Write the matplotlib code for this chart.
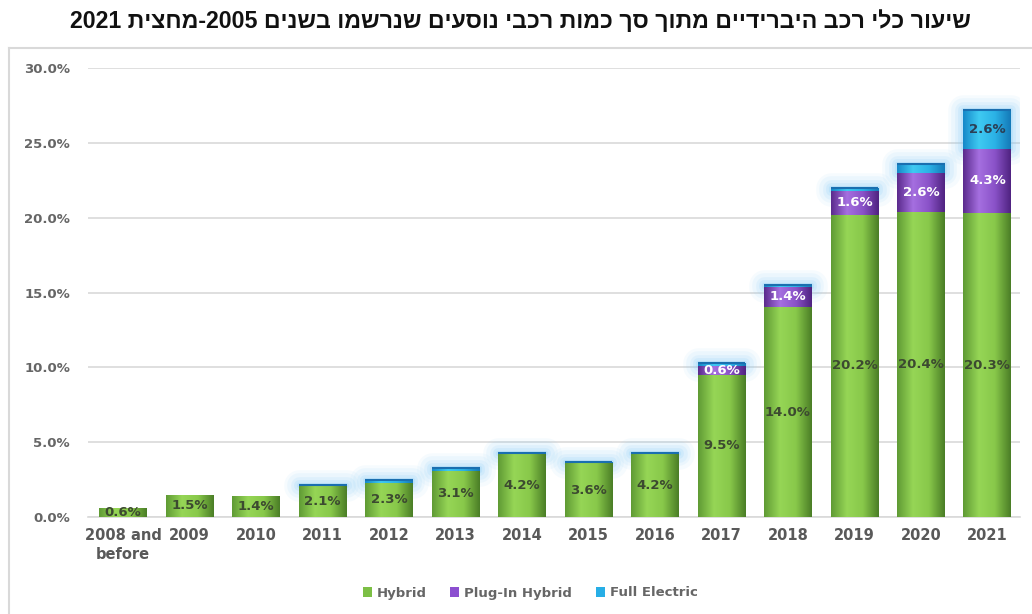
import re
import numpy as np
import matplotlib
matplotlib.use("Agg")
import matplotlib.pyplot as plt
from matplotlib.colors import LinearSegmentedColormap
from matplotlib.patches import Patch
from matplotlib.lines import Line2D

# ---------------- data ----------------
categories = ["2008 and\nbefore", "2009", "2010", "2011", "2012", "2013", "2014",
              "2015", "2016", "2017", "2018", "2019", "2020", "2021"]
hybrid = [0.6, 1.5, 1.4, 2.1, 2.3, 3.1, 4.2, 3.6, 4.2, 9.5, 14.0, 20.2, 20.4, 20.3]
plugin = [0, 0, 0, 0, 0, 0, 0, 0, 0, 0.6, 1.4, 1.6, 2.6, 4.3]
electric = [0, 0, 0, 0.07, 0.15, 0.2, 0.1, 0.1, 0.1, 0.2, 0.1, 0.2, 0.6, 2.6]
series_names = ["Hybrid", "Plug-In Hybrid", "Full Electric"]
yticks = [0, 5, 10, 15, 20, 25, 30]
title_logical = "שיעור כלי רכב היברידיים מתוך סך כמות רכבי נוסעים שנרשמו בשנים 2005-מחצית 2021"


def visual_order(s):
    # matplotlib has no bidi support: lay the RTL text out in visual order
    r = s[::-1]
    return re.sub(r"\d+", lambda m: m.group(0)[::-1], r)


GREEN = ["#5f9a34", "#96d656", "#88c84a", "#4a7d26"]
PURPLE = ["#5a2a8c", "#a56fe0", "#8a52c8", "#4f2280"]
BLUE = ["#1588c8", "#3fcaf2", "#2bb2e6", "#1479b8"]
cmaps = [LinearSegmentedColormap.from_list("g%d" % i, c) for i, c in enumerate([GREEN, PURPLE, BLUE])]
solid = ["#7cbf45", "#8c4fd0", "#27aee6"]

fig = plt.figure(figsize=(10.32, 6.14), dpi=100)
ax = fig.add_axes([88 / 1032, 97 / 614, 932 / 1032, 449 / 614])

x = np.arange(len(categories))
width = 0.72
grad = np.linspace(0, 1, 256)[np.newaxis, :]


def grad_bars(bottoms, heights, cmap, z):
    bars = ax.bar(x, heights, width, bottom=bottoms, facecolor="none",
                  edgecolor="none", zorder=z)
    for p in bars:
        if p.get_height() <= 0:
            continue
        x0, y0 = p.get_x(), p.get_y()
        im = ax.imshow(grad, extent=(x0, x0 + p.get_width(), y0, y0 + p.get_height()),
                       cmap=cmap, aspect="auto", origin="lower",
                       interpolation="bilinear", zorder=z)
        im.set_clip_path(p)
    return bars


hyb = np.array(hybrid)
plg = np.array(plugin)
ele = np.array(electric)

# glow around the electric (top) segment
glow_bottom = hyb + plg
for lw, a in [(22, 0.07), (17, 0.09), (12, 0.12), (7, 0.16), (3, 0.22)]:
    mask = ele > 0
    ax.bar(x[mask], ele[mask], width, bottom=glow_bottom[mask], facecolor="#86cbf7",
           edgecolor="#86cbf7", linewidth=lw, alpha=a, joinstyle="round", zorder=1)

grad_bars(np.zeros_like(hyb), hyb, cmaps[0], 3)
grad_bars(hyb, plg, cmaps[1], 3)
grad_bars(hyb + plg, ele, cmaps[2], 3)

# darker top edge line for electric segments
for xi, b, h in zip(x, hyb + plg, ele):
    if h > 0:
        ax.plot([xi - width / 2, xi + width / 2], [b + h, b + h], color="#1a6fb0",
                lw=1.5, zorder=4, solid_capstyle="butt")

# labels
lab_kw = dict(ha="center", va="center", fontsize=9.5, fontweight="bold", zorder=6,
              family="DejaVu Sans")
for xi, h in zip(x, hyb):
    ax.text(xi, h / 2, f"{h:.1f}%", color="#3c4a30", **lab_kw)
for xi, b, h in zip(x, hyb, plg):
    if h >= 0.5:
        ax.text(xi, b + h / 2, f"{h:.1f}%", color="white", **lab_kw)
for xi, b, h in zip(x, hyb + plg, ele):
    if h >= 1.0:
        ax.text(xi, b + h / 2, f"{h:.1f}%", color="#2b3f55", **lab_kw)

ax.set_xlim(-0.53, len(categories) - 0.51)
ax.set_ylim(0, 30)
ax.set_yticks(yticks)
ax.set_yticklabels([f"{v:.1f}%" for v in yticks])
ax.set_xticks(x)
ax.set_xticklabels(categories)
ax.grid(axis="y", color="#d9d9d9", lw=1.2, zorder=0)
ax.set_axisbelow(True)
for s in ["top", "right", "left"]:
    ax.spines[s].set_visible(False)
ax.spines["bottom"].set_color("#d9d9d9")
ax.spines["bottom"].set_linewidth(1.2)
ax.tick_params(axis="both", length=0)
ax.tick_params(axis="y", pad=13, labelsize=9.5, labelcolor="#666666")
ax.tick_params(axis="x", pad=8, labelsize=10.5, labelcolor="#595959")
for t in ax.get_yticklabels() + ax.get_xticklabels():
    t.set_fontweight("bold")
    t.set_family("DejaVu Sans")
for t in ax.get_xticklabels():
    t.set_linespacing(1.3)

# legend
handles = [Patch(facecolor=c, edgecolor="none") for c in solid]
leg = fig.legend(handles, series_names, loc="center", bbox_to_anchor=(530 / 1032, 21 / 614),
                 ncol=3, frameon=False, handlelength=0.7, handleheight=0.7,
                 columnspacing=1.8, handletextpad=0.35,
                 prop=dict(family="DejaVu Sans", weight="bold", size=9.5))
for t in leg.get_texts():
    t.set_color("#666666")

# outer frame of the chart area
fig.add_artist(Line2D([9 / 1032, 9 / 1032], [0, 1 - 48 / 614], color="#d9d9d9", lw=1.5,
                      transform=fig.transFigure))
fig.add_artist(Line2D([9 / 1032, 1], [1 - 48 / 614, 1 - 48 / 614], color="#d9d9d9", lw=1.5,
                      transform=fig.transFigure))

fig.text(520 / 1032, 1 - 21 / 614, visual_order(title_logical), ha="center", va="center",
         fontsize=16.7, fontweight="bold", family=["Liberation Sans", "DejaVu Sans"],
         color="#111111")

fig.savefig("out.png", dpi=100)
